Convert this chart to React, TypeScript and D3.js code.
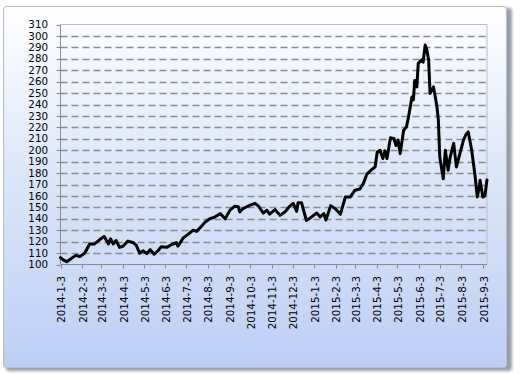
import React from "react";
import * as d3 from "d3";

const dates: string[] = [
  "2014-01-03","2014-01-07","2014-01-12","2014-01-18","2014-01-25","2014-01-31","2014-02-07","2014-02-14","2014-02-21","2014-03-01",
  "2014-03-07","2014-03-13","2014-03-16","2014-03-20","2014-03-24","2014-03-29","2014-04-03","2014-04-10","2014-04-18","2014-04-22",
  "2014-04-27","2014-05-02","2014-05-07","2014-05-12","2014-05-18","2014-05-24","2014-05-28","2014-06-05","2014-06-12","2014-06-19",
  "2014-06-21","2014-06-29","2014-07-06","2014-07-13","2014-07-18","2014-07-25","2014-07-30","2014-08-06","2014-08-13","2014-08-21",
  "2014-08-28","2014-09-04","2014-09-11","2014-09-16","2014-09-18","2014-09-23","2014-10-03","2014-10-10","2014-10-15","2014-10-22",
  "2014-10-27","2014-10-31","2014-11-08","2014-11-15","2014-11-22","2014-11-29","2014-12-04","2014-12-09","2014-12-11","2014-12-16",
  "2014-12-23","2014-12-29","2015-01-07","2015-01-12","2015-01-17","2015-01-20","2015-01-27","2015-02-03","2015-02-10","2015-02-17",
  "2015-02-24","2015-03-03","2015-03-10","2015-03-15","2015-03-20","2015-03-27","2015-04-01","2015-04-04","2015-04-08","2015-04-12",
  "2015-04-15","2015-04-18","2015-04-23","2015-04-28","2015-05-01","2015-05-04","2015-05-07","2015-05-12","2015-05-16","2015-05-19",
  "2015-05-24","2015-05-26","2015-05-28","2015-05-31","2015-06-02","2015-06-07","2015-06-09","2015-06-12","2015-06-14","2015-06-17",
  "2015-06-19","2015-06-24","2015-06-29","2015-07-01","2015-07-03","2015-07-08","2015-07-11","2015-07-15","2015-07-18","2015-07-23",
  "2015-07-27","2015-08-01","2015-08-06","2015-08-10","2015-08-13","2015-08-18","2015-08-23","2015-08-26","2015-08-29","2015-08-30",
  "2015-09-03","2015-09-06","2015-09-09"
];

const values: number[] = [
  106,104,102.5,105,108,107,110,118,118,122,
  124.5,118,122.5,118,121,115,116,120.5,119,117,
  110,112,109.5,113,109,112.5,115.5,115,117.5,119,
  116,123.5,126.5,130,129,133.5,137,140,141.5,144.5,
  140,147.5,151,150.5,146,149,152,153.5,151,145,
  147.5,144,148,143,146,151,153.5,146.5,154,154,
  138.5,141,145,141.6,144.6,138.8,151.5,148.5,144,159,
  159,165,166,171,179,183,185.5,198.5,200,192.7,
  199.4,192.7,211,210,204,209,197,217.5,220.4,229,
  246.5,244,261,255.4,276,279,277,292,289,279,
  249.6,255.4,238,226,194,175,200,182.5,194,206,
  185.4,197,208.7,214,216,200,176.6,159,168,173.8,
  159,160,174
];

const tickLabels: string[] = [
  "2014-1-3","2014-2-3","2014-3-3","2014-4-3","2014-5-3","2014-6-3","2014-7-3","2014-8-3","2014-9-3","2014-10-3",
  "2014-11-3","2014-12-3","2015-1-3","2015-2-3","2015-3-3","2015-4-3","2015-5-3","2015-6-3","2015-7-3","2015-8-3","2015-9-3"
];

const yTicks: number[] = [100,110,120,130,140,150,160,170,180,190,200,210,220,230,240,250,260,270,280,290,300,310];

const parse = d3.timeParse("%Y-%m-%d");
const parseLabel = d3.timeParse("%Y-%-m-%-d");

export default function App() {
  const W = 520, H = 374;
  const left = 60.5, right = 487, top = 24.5, bottom = 264.5;
  const x = d3.scaleTime()
    .domain([parse("2014-01-03")!, parse("2015-09-09")!])
    .range([left, right]);
  const y = d3.scaleLinear().domain([100, 310]).range([bottom, top]);
  const data = dates.map((d, i) => ({ d: parse(d)!, v: values[i] }));
  const line = d3.line<{ d: Date; v: number }>()
    .x((p) => x(p.d))
    .y((p) => y(p.v))
    .curve(d3.curveLinear);
  const font = "'DejaVu Sans', Verdana, sans-serif";
  const snap = (v: number) => Math.round(v) + 0.5;

  return (
    <svg width={W} height={H} style={{ position: "absolute", left: 0, top: 0 }} xmlns="http://www.w3.org/2000/svg">
      <defs>
        <linearGradient id="bg" x1="0" y1="0" x2="0" y2="1">
          <stop offset="0" stopColor="#ffffff" />
          <stop offset="0.45" stopColor="#dce7fa" />
          <stop offset="1" stopColor="#bccff4" />
        </linearGradient>
        <filter id="sh" x="-5%" y="-5%" width="110%" height="110%">
          <feGaussianBlur stdDeviation="1.5" />
        </filter>
      </defs>
      <rect x={0} y={0} width={W} height={H} fill="#ffffff" />
      <rect x={6} y={8} width={506} height={363} rx={3} fill="#7d8694" filter="url(#sh)" opacity={0.8} />
      <rect x={3.5} y={6.5} width={503} height={361} rx={3} fill="url(#bg)" stroke="#b9bfc9" strokeWidth={1} />

      {/* gridlines */}
      {yTicks.filter((t) => t > 100 && t < 310).map((t) => (
        <line key={"g" + t} x1={left} x2={right} y1={snap(y(t))} y2={snap(y(t))}
          stroke="#8a8a8a" strokeWidth={1.3} strokeDasharray="7,4" />
      ))}
      {/* plot border top/right */}
      <line x1={left} x2={right} y1={top} y2={top} stroke="#bdbdbd" strokeWidth={1} />
      <line x1={right} x2={right} y1={top} y2={bottom} stroke="#bdbdbd" strokeWidth={1} />
      {/* axes */}
      <line x1={left} x2={left} y1={top} y2={bottom} stroke="#8a8a8a" strokeWidth={1} />
      <line x1={left} x2={right} y1={bottom} y2={bottom} stroke="#8a8a8a" strokeWidth={1} />

      {yTicks.map((t) => (
        <g key={"y" + t}>
          <line x1={left - 4} x2={left} y1={snap(y(t)) - (t === 100 ? 0 : 0)} y2={snap(y(t))} stroke="#8a8a8a" strokeWidth={1} />
          <text x={48} y={y(t)} dy="0.36em" textAnchor="end" fontFamily={font} fontSize={10.3} fill="#000">{t}</text>
        </g>
      ))}

      {tickLabels.map((lab) => {
        const px = x(parseLabel(lab)!);
        return (
          <g key={lab}>
            <line x1={snap(px)} x2={snap(px)} y1={bottom} y2={bottom + 4} stroke="#8a8a8a" strokeWidth={1} />
            <text transform={`translate(${px + 1},${276}) rotate(-90)`} dy="0.36em" textAnchor="end"
              fontFamily={font} fontSize={10.3} fill="#000">{lab}</text>
          </g>
        );
      })}

      <path d={line(data) || ""} fill="none" stroke="#000" strokeWidth={3} strokeLinejoin="round" strokeLinecap="round" />
    </svg>
  );
}
